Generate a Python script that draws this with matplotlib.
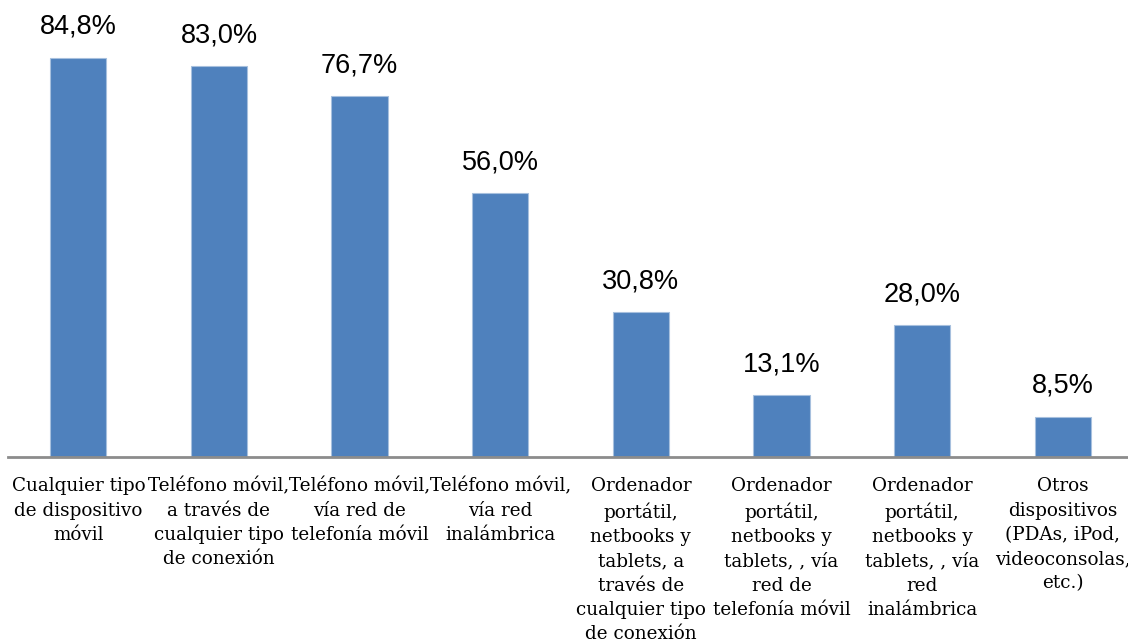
import matplotlib.pyplot as plt
import numpy as np

# datos
categorias = [
    "Cualquier tipo\nde dispositivo\nmóvil",
    "Teléfono móvil,\na través de\ncualquier tipo\nde conexión",
    "Teléfono móvil,\nvía red de\ntelefonía móvil",
    "Teléfono móvil,\nvía red\ninalámbrica",
    "Ordenador\nportátil,\nnetbooks y\ntablets, a\ntravés de\ncualquier tipo\nde conexión",
    "Ordenador\nportátil,\nnetbooks y\ntablets, , vía\nred de\ntelefonía móvil",
    "Ordenador\nportátil,\nnetbooks y\ntablets, , vía\nred\ninalámbrica",
    "Otros\ndispositivos\n(PDAs, iPod,\nvideoconsolas,\netc.)",
]
valores = [84.8, 83.0, 76.7, 56.0, 30.8, 13.1, 28.0, 8.5]

fig = plt.figure(figsize=(11.28, 6.44), dpi=100)
ax = fig.add_axes([8 / 1128, 187 / 644, 1125 / 1128, 423.5 / 644])

x = np.arange(len(valores))
barras = ax.bar(x, valores, width=0.4, color='#4F81BD', edgecolor='#A7C0DE', linewidth=0.8)

ax.set_xlim(-0.5, len(valores) - 0.5)
ax.set_ylim(0, 90)

# etiquetas de valor
for b, v in zip(barras, valores):
    ax.text(b.get_x() + b.get_width() / 2, v + 6.6, f"{v:.1f}%".replace('.', ','),
            ha='center', va='center', fontsize=19.5, family='Liberation Sans')

# etiquetas de categoría
for xi, cat in zip(x, categorias):
    ax.text(xi, -4.3, cat, ha='center', va='top', fontsize=13.2,
            family='DejaVu Serif', linespacing=1.45)

for s in ['top', 'right', 'left']:
    ax.spines[s].set_visible(False)
ax.spines['bottom'].set_color('#8C8C8C')
ax.spines['bottom'].set_linewidth(2)
ax.set_xticks([])
ax.set_yticks([])

fig.savefig('out.png', dpi=100)
